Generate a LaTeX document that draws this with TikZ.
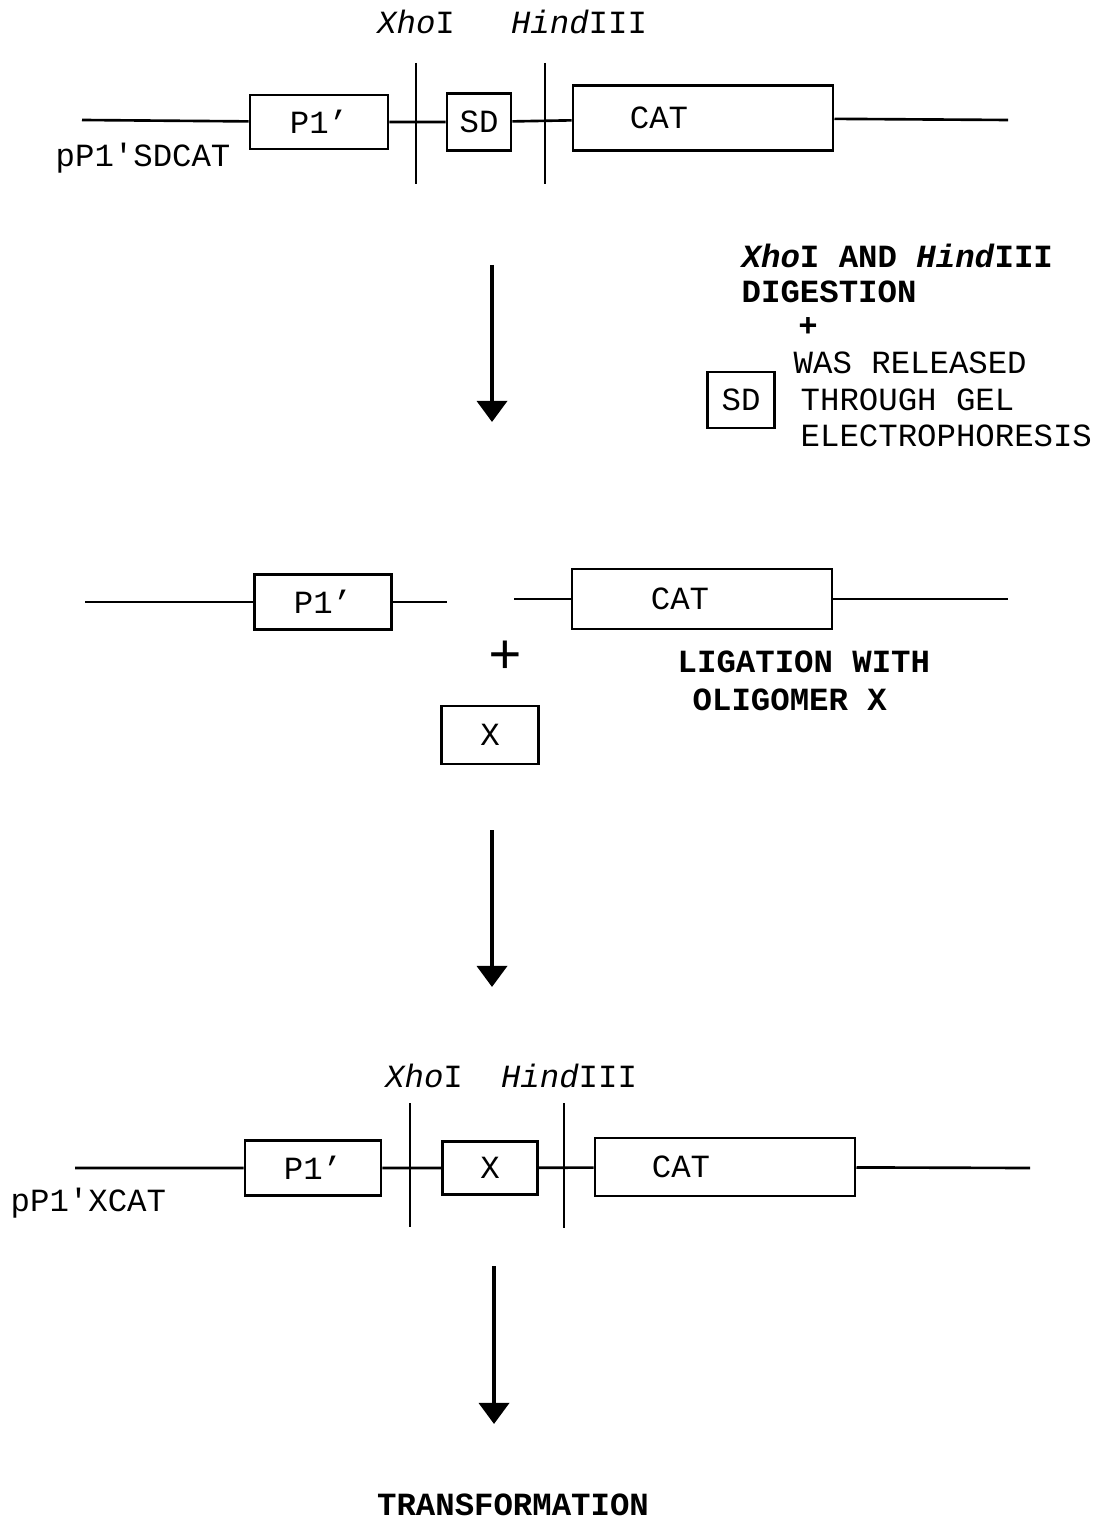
\documentclass[tikz,border=0pt]{standalone}
\usepackage{fontspec}
\newfontfamily\courfont{Liberation Mono}
\usetikzlibrary{arrows.meta}

\begin{document}
\begin{tikzpicture}[x=0.01cm,y=-0.01cm,>={Triangle[width=8.5pt,length=6pt]},
  every node/.style={font=\courfont\fontsize{9.2}{11}\selectfont,inner sep=0pt},
  boldtext/.style={font=\courfont\bfseries\fontsize{9.2}{11}\selectfont},
  gene/.style={draw,line width=0.8pt},
  dna/.style={line width=0.75pt},
  cut/.style={line width=0.45pt},
  flow/.style={->,line width=1.2pt}]
  \useasboundingbox (0,0) rectangle (1095,1522);

  % Top: plasmid pP1'SDCAT with the two cut sites
  \coordinate (a0) at (82,120);
  \coordinate (a1) at (1008,120);
  \node[gene,minimum width=1.38cm,minimum height=0.54cm] (p1a) at (319,122) {P1’};
  \node[gene,minimum width=0.64cm,minimum height=0.57cm] (sda) at (479,122) {SD};
  \node[gene,minimum width=2.60cm,minimum height=0.65cm,label={[xshift=-0.44cm]center:CAT}] (cata) at (703,118) {};
  \draw[dna] (a0) -- (p1a) -- (sda) -- (cata) -- (a1);
  \coordinate (xa1) at (416,63);  \coordinate (xa2) at (416,184);
  \coordinate (ha1) at (545,63);  \coordinate (ha2) at (545,184);
  \draw[cut] (xa1) -- (xa2);
  \draw[cut] (ha1) -- (ha2);
  \node (xhoa) at (416,22) {\textit{Xho}I};
  \node (hinda) at (579,22) {\textit{Hind}III};
  \node[anchor=west] (namea) at (55,158) {pP1'SDCAT};

  % First step: digestion
  \coordinate (ar1a) at (492,265);
  \coordinate (ar1b) at (492,422);
  \draw[flow] (ar1a) -- (ar1b);
  \node[anchor=west,boldtext] (dig1) at (741,256) {\textit{Xho}I AND \textit{Hind}III};
  \node[anchor=west,boldtext] (dig2) at (741,292) {DIGESTION};
  \node[boldtext] (dig3) at (808,327) {+};
  \node[anchor=west] (rel1) at (793,363) {WAS RELEASED};
  \node[anchor=west] (rel2) at (800,400) {THROUGH GEL};
  \node[anchor=west] (rel3) at (800,436) {ELECTROPHORESIS};
  \node[gene,minimum width=0.67cm,minimum height=0.56cm] (sdfree) at (741,400) {SD};

  % Middle: cut vector + oligomer X
  \coordinate (b0) at (85,602);
  \coordinate (b1) at (447,602);
  \coordinate (b2) at (514,599);
  \coordinate (b3) at (1008,599);
  \node[gene,minimum width=1.37cm,minimum height=0.55cm] (p1b) at (323,602) {P1’};
  \node[gene,minimum width=2.60cm,minimum height=0.60cm,label={[xshift=-0.22cm]center:CAT}] (catb) at (702,599) {};
  \draw[dna] (b0) -- (p1b) -- (b1);
  \draw[dna] (b2) -- (catb) -- (b3);
  \node[font=\courfont\fontsize{16}{16}\selectfont] (plus) at (505,657) {+};
  \node[gene,minimum width=0.97cm,minimum height=0.58cm] (xfree) at (490,735) {X};
  \node[anchor=west,boldtext] (lig1) at (677,662) {LIGATION WITH};
  \node[anchor=west,boldtext] (lig2) at (692,700) {OLIGOMER X};

  % Second step: ligation
  \coordinate (ar2a) at (492,830);
  \coordinate (ar2b) at (492,987);
  \draw[flow] (ar2a) -- (ar2b);

  % Bottom: plasmid pP1'XCAT
  \coordinate (c0) at (75,1168);
  \coordinate (c1) at (1030,1168);
  \node[gene,minimum width=1.36cm,minimum height=0.55cm] (p1c) at (313,1168) {P1’};
  \node[gene,minimum width=0.95cm,minimum height=0.53cm] (xc) at (490,1168) {X};
  \node[gene,minimum width=2.60cm,minimum height=0.58cm,label={[xshift=-0.44cm]center:CAT}] (catc) at (725,1167) {};
  \draw[dna] (c0) -- (p1c) -- (xc) -- (catc) -- (c1);
  \coordinate (xc1) at (410,1103);  \coordinate (xc2) at (410,1227);
  \coordinate (hc1) at (564,1103);  \coordinate (hc2) at (564,1228);
  \draw[cut] (xc1) -- (xc2);
  \draw[cut] (hc1) -- (hc2);
  \node (xhoc) at (424,1076) {\textit{Xho}I};
  \node (hindc) at (569,1076) {\textit{Hind}III};
  \node[anchor=west] (namec) at (10,1203) {pP1'XCAT};

  % Last step
  \coordinate (ar3a) at (494,1266);
  \coordinate (ar3b) at (494,1424);
  \draw[flow] (ar3a) -- (ar3b);
  \node[boldtext] (trans) at (513,1505) {TRANSFORMATION};
\end{tikzpicture}
\end{document}
